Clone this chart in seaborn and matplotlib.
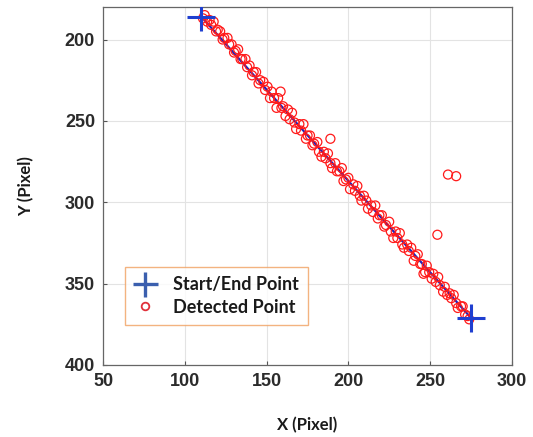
import numpy as np
import pandas as pd
import matplotlib
matplotlib.use("Agg")
import matplotlib.pyplot as plt
from matplotlib.lines import Line2D
import seaborn as sns

# start / end of the traced path
path_x = [110, 275]
path_y = [186, 371]

# detected points
det_x = [111, 112, 113.5, 115, 116, 117.5, 119, 120, 121.5, 123, 124, 126, 127, 128.5,
         130, 131, 132.5, 134, 135, 137, 138, 139.5, 141, 142, 143.5, 145, 146, 148,
         149, 150.5, 152, 153, 154.5, 156, 157, 159, 160, 161.5, 163, 164, 165.5, 167,
         168, 170, 171, 172.5, 174, 175, 176.5, 178, 179, 181, 182, 183.5, 185, 186,
         187.5, 189, 190, 192, 193, 194.5, 196, 197, 198.5, 200, 201, 203, 204, 205.5,
         207, 208, 209.5, 211, 212, 214, 215, 216.5, 218, 219, 220.5, 222, 223, 225,
         226, 227.5, 229, 230, 231.5, 233, 234, 236, 237, 238.5, 240, 241, 242.5, 244,
         245, 247, 248, 249.5, 251, 252, 253.5, 255, 256, 258, 259, 260.5, 262, 263,
         264.5, 266, 267, 269, 270, 271.5, 273, 274,
         158.5, 189, 261, 266, 254.5, 246]
det_y = [187, 185, 189, 188, 191, 189, 195, 194, 195, 200, 199, 199, 203, 203,
         208, 207, 206, 212, 212, 212, 217, 216, 222, 220, 220, 227, 225, 226,
         231, 229, 236, 232, 236, 242, 236, 242, 241, 247, 243, 249, 245, 251,
         255, 252, 256, 252, 261, 259, 259, 265, 264, 263, 269, 272, 269, 273,
         270, 276, 279, 276, 281, 281, 279, 287, 286, 285, 292, 289, 293, 290,
         296, 299, 296, 299, 304, 302, 306, 302, 310, 308, 308, 315, 314, 312,
         318, 322, 318, 322, 319, 326, 328, 326, 330, 328, 336, 333, 332, 338,
         338, 343, 339, 343, 347, 344, 349, 346, 351, 355, 352, 357, 356, 359,
         357, 362, 365, 364, 364, 369, 370, 372,
         232, 261, 283, 284, 320, 344]

x_ticks = [50, 100, 150, 200, 250, 300]
y_ticks = [200, 250, 300, 350, 400]

sns.set_theme(style="whitegrid")
plt.rcParams["font.family"] = ["Liberation Sans", "DejaVu Sans"]

fig = plt.figure(figsize=(5.33, 4.37), dpi=100)
ax = fig.add_axes([0.194, 0.165, 0.766, 0.819])

path_df = pd.DataFrame({"x": path_x, "y": path_y})
det_df = pd.DataFrame({"x": det_x, "y": det_y})

sns.lineplot(data=path_df, x="x", y="y", sort=False, estimator=None,
             color="#2323b8", linewidth=1.6, ax=ax, zorder=2)
sns.scatterplot(data=det_df, x="x", y="y", marker="o", s=42,
                facecolors="none", edgecolor="#ff1a1a", linewidth=0.9,
                ax=ax, zorder=3)
sns.scatterplot(data=path_df, x="x", y="y", marker="+", s=380,
                color="#1f3fd0", linewidth=2.2, ax=ax, zorder=4)

ax.set_xlim(50, 300)
ax.set_ylim(400, 180)
ax.set_xticks(x_ticks)
ax.set_yticks(y_ticks)
ax.tick_params(axis="both", direction="in", length=3, width=0.8, color="#555555",
               labelsize=13, labelcolor="#2b2b2b", pad=6, bottom=True, left=True)
for lab in ax.get_xticklabels() + ax.get_yticklabels():
    lab.set_fontweight("bold")
ax.grid(True, color="#e3e3e3", linewidth=0.8)
for sp in ax.spines.values():
    sp.set_color("#666666")
    sp.set_linewidth(0.9)

ax.set_xlabel("X (Pixel)", fontsize=12, fontweight="bold", family="Lato",
              color="#1a1a1a", labelpad=19)
ax.set_ylabel("Y (Pixel)", fontsize=12, fontweight="bold", family="Lato",
              color="#1a1a1a", labelpad=22)

handles = [
    Line2D([], [], linestyle="none", marker="+", markersize=18, markeredgewidth=2.4,
           color="#3b5fae", label="Start/End Point"),
    Line2D([], [], linestyle="none", marker="o", markersize=5.5, markerfacecolor="none",
           markeredgewidth=1.3, markeredgecolor="#e0303a", label="Detected Point"),
]
leg = ax.legend(handles=handles, loc="lower left", bbox_to_anchor=(0.052, 0.112),
                frameon=True, fancybox=False, handlelength=1.3, handletextpad=0.9,
                borderpad=0.5, labelspacing=0.3, borderaxespad=0,
                prop={"family": "Lato", "weight": "bold", "size": 13})
leg.get_frame().set_edgecolor("#f0a060")
leg.get_frame().set_linewidth(1.0)
for t in leg.get_texts():
    t.set_color("#1a1a1a")

fig.savefig("out.png", dpi=100)
